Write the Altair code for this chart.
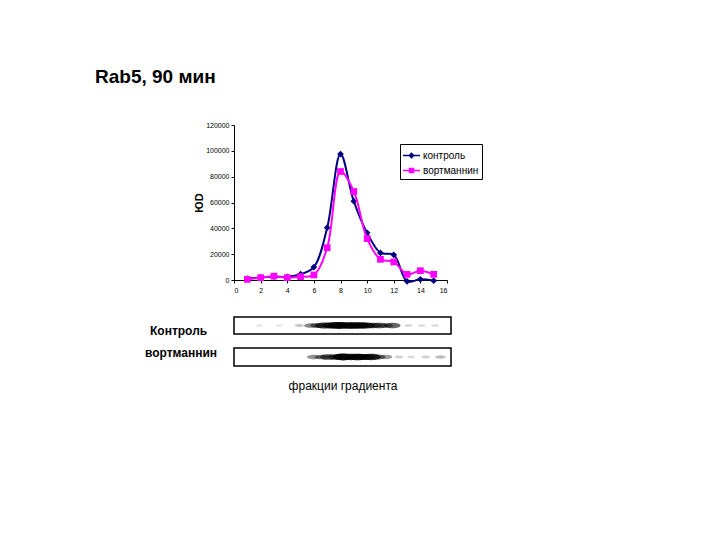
import altair as alt
import pandas as pd

# ---- data ----
fractions = list(range(1, 16))
control = [1000, 2000, 2500, 2500, 4500, 10000, 40500, 97500, 61000, 36500, 21000, 19500, -1000, 500, -500]
wortmannin = [500, 1800, 3000, 1800, 2600, 3900, 25000, 84000, 68500, 32000, 16000, 14000, 4400, 7200, 4400]
series_names = ["контроль", "вортманнин"]
series_colors = ["#000080", "#FF00FF"]
x_ticks = [0, 2, 4, 6, 8, 10, 12, 14, 16]
y_ticks = [0, 20000, 40000, 60000, 80000, 100000, 120000]
chart_title = "Rab5, 90 мин"
y_title = "ЮD"
x_title_blot = "фракции градиента"
blot_labels = ["Контроль", "вортманнин"]

blot_control_pos = [1.8, 3.3, 4.8, 5.7, 6.2, 6.7, 7.3, 7.8, 8.4, 8.9, 9.4, 9.8, 10.3, 10.8, 11.3, 11.8, 13.0, 14.0, 15.0]
blot_control_int = [0.04, 0.04, 0.15, 0.45, 0.5, 0.8, 0.85, 1.0, 0.9, 0.95, 0.85, 0.8, 0.6, 0.65, 0.45, 0.6, 0.1, 0.07, 0.07]
blot_wort_pos = [5.9, 6.5, 7.0, 7.6, 8.1, 8.7, 9.2, 9.7, 10.2, 10.7, 11.3, 12.3, 13.2, 14.3, 15.4]
blot_wort_int = [0.4, 0.45, 0.7, 0.65, 1.0, 0.85, 0.95, 0.8, 0.85, 0.5, 0.35, 0.12, 0.08, 0.12, 0.2]

FONT = "Liberation Sans"

ctrl_df = pd.DataFrame({"fraction": fractions, "iod": control})
wort_df = pd.DataFrame({"fraction": fractions, "iod": wortmannin})
# legend-only points lie outside the y domain and are clipped away
legend_df = pd.DataFrame({"fraction": [1, 1], "iod": [-60000, -60000], "series": series_names})
title_df = pd.DataFrame({"t": [chart_title]})

xs = alt.X("fraction:Q", scale=alt.Scale(domain=[0, 16], nice=False),
           axis=alt.Axis(values=x_ticks, title=None, grid=False, labelFontSize=7, tickSize=3,
                         labelPadding=3, domainColor="black", tickColor="black", labelColor="black"))
ys = alt.Y("iod:Q", scale=alt.Scale(domain=[0, 120000], nice=False),
           axis=alt.Axis(values=y_ticks, format="d", title=y_title, grid=False, labelFontSize=7,
                         tickSize=3, labelPadding=2, titleFontSize=11, titleFontWeight="bold",
                         titlePadding=1, titleColor="black", domainColor="black",
                         tickColor="black", labelColor="black"))

ctrl_line = alt.Chart(ctrl_df).mark_line(interpolate="catmull-rom", color=series_colors[0],
                                         strokeWidth=2, clip=False).encode(x=xs, y=ys)
ctrl_pts = alt.Chart(ctrl_df).mark_point(shape="diamond", filled=True, size=45, opacity=1,
                                         color=series_colors[0], clip=False).encode(x=xs, y=ys)
wort_line = alt.Chart(wort_df).mark_line(interpolate="catmull-rom", color=series_colors[1],
                                         strokeWidth=2, clip=False).encode(x=xs, y=ys)
wort_pts = alt.Chart(wort_df).mark_point(shape="square", filled=True, size=45, opacity=1,
                                         color=series_colors[1], clip=False).encode(x=xs, y=ys)

path_ctrl = "M-1,-0.08L1,-0.08L1,0.08L-1,0.08Z M0,-0.38L0.38,0L0,0.38L-0.38,0Z"
path_wort = "M-1,-0.08L1,-0.08L1,0.08L-1,0.08Z M-0.33,-0.33L0.33,-0.33L0.33,0.33L-0.33,0.33Z"

legend_layer = alt.Chart(legend_df).mark_point(filled=True, opacity=1, clip=True).encode(
    x=xs, y=ys,
    color=alt.Color("series:N", scale=alt.Scale(domain=series_names, range=series_colors),
                    legend=alt.Legend(title=None, orient="none", legendX=166, legendY=19,
                                      strokeColor="black", padding=3, labelFontSize=10,
                                      labelColor="black", symbolOpacity=1, symbolSize=289,
                                      symbolStrokeWidth=0, labelOffset=3, rowPadding=1,
                                      cornerRadius=0, fillColor="white")),
    shape=alt.Shape("series:N", scale=alt.Scale(domain=series_names, range=[path_ctrl, path_wort])),
)

title_layer = alt.Chart(title_df).mark_text(align="left", baseline="alphabetic", fontSize=19,
                                            fontWeight="bold", color="black").encode(
    x=alt.value(-139), y=alt.value(-42), text="t:N")

main = alt.layer(ctrl_line, ctrl_pts, wort_line, wort_pts, legend_layer, title_layer).properties(
    width=213, height=155)

ELLIPSE = "M-1,0A1,0.33,0,1,0,1,0A1,0.33,0,1,0,-1,0Z"


def blot(pos, inten, label, h, label_x, label_y, bottom):
    df = pd.DataFrame({"fraction": pos, "intensity": inten})
    if bottom:
        ax = alt.Axis(title=x_title_blot, labels=False, ticks=False, domain=False, grid=False,
                      titleFontSize=12, titleFontWeight="normal", titlePadding=14,
                      titleColor="black")
    else:
        ax = None
    bands = alt.Chart(df).mark_point(filled=True, shape=ELLIPSE, color="black",
                                     strokeWidth=0).encode(
        x=alt.X("fraction:Q", scale=alt.Scale(domain=[-0.1, 16.2], nice=False), axis=ax),
        y=alt.value(h / 2),
        size=alt.Size("intensity:Q", scale=alt.Scale(domain=[0, 1], range=[30, 420]), legend=None),
        opacity=alt.Opacity("intensity:Q", scale=alt.Scale(domain=[0, 1], range=[0.08, 0.95]),
                            legend=None),
    )
    lab = alt.Chart(pd.DataFrame({"t": [label]})).mark_text(
        align="left", baseline="middle", fontSize=12, fontWeight="bold", color="black").encode(
        x=alt.value(label_x), y=alt.value(label_y), text="t:N")
    return alt.layer(bands, lab).properties(
        width=217, height=h, view=alt.ViewBackground(stroke="black", strokeWidth=1.5))


blot1 = blot(blot_control_pos, blot_control_int, blot_labels[0], 17, -84, 14, False)
blot2 = blot(blot_wort_pos, blot_wort_int, blot_labels[1], 18, -89, 5, True)

chart = alt.vconcat(main, alt.vconcat(blot1, blot2, spacing=8), spacing=23).properties(
    padding={"left": 87, "top": 60, "right": 5, "bottom": 5}, background="white"
).configure(font=FONT).configure_view(stroke=None)

chart.save("out.html", embed_options={"renderer": "svg", "actions": False})
